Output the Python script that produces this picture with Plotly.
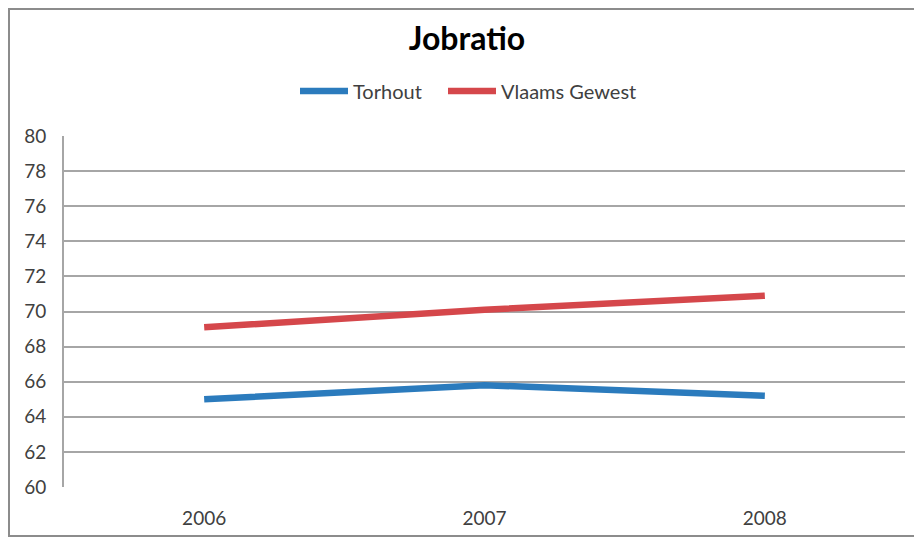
import plotly.graph_objects as go

years = ["2006", "2007", "2008"]
torhout = [65.0, 65.8, 65.2]
vlaams = [69.1, 70.1, 70.9]
series_names = ["Torhout", "Vlaams Gewest"]
title_text = "Jobratio"

OFF = 8  # page body margin
W, H = 922 - OFF, 540 - OFF
L, T = 64 - OFF, 136 - OFF
R = W - (905 - OFF)
B = H - (487 - OFF)
pw, ph = W - L - R, H - T - B

fig = go.Figure()
fig.add_trace(go.Scatter(x=years, y=torhout, mode="lines", name=series_names[0],
                         line=dict(color="#2b7bbd", width=6.5), legend="legend"))
fig.add_trace(go.Scatter(x=years, y=vlaams, mode="lines", name=series_names[1],
                         line=dict(color="#d5474b", width=6.5), legend="legend2"))

font_fam = "Lato, 'Open Sans', sans-serif"

def leg(xpix):
    return dict(orientation="h", x=(xpix - 64) / pw, xanchor="left",
                y=1 + (136 - 91) / ph, yanchor="middle",
                font=dict(size=20, color="#404040"), itemwidth=48,
                bgcolor="rgba(0,0,0,0)")

fig.update_layout(
    width=W, height=H,
    margin=dict(l=L, r=R, t=T, b=B),
    paper_bgcolor="white", plot_bgcolor="white",
    font=dict(family=font_fam, color="#404040", size=18),
    title=dict(text="<b>" + title_text + "</b>", x=(467 - 64) / pw, xref="paper",
               xanchor="center", y=1 - (39 - OFF) / H, yanchor="middle",
               font=dict(size=32, color="#000000", family=font_fam)),
    legend=leg(301 - 6),
    legend2=leg(448 - 5),
    showlegend=True,
)
fig.update_xaxes(type="category", range=[-0.5, 2.5], showgrid=False,
                 showline=False, zeroline=False, ticks="",
                 tickfont=dict(size=19, color="#404040"), ticklabelstandoff=18)
fig.update_yaxes(range=[60, 80], dtick=2, showgrid=True, gridcolor="#a6a6a6",
                 gridwidth=1.8, showline=True, linecolor="#a6a6a6", linewidth=1.8,
                 zeroline=False, ticks="", tickfont=dict(size=19, color="#404040"),
                 ticklabelstandoff=12)

# outer chart border (left, top, bottom)
fig.add_shape(type="rect", xref="paper", yref="paper",
              x0=(1 - L) / pw, x1=(940 - L) / pw,
              y0=-(536 - 487) / ph, y1=1 + (T - 1) / ph,
              line=dict(color="#8c8c8c", width=2), fillcolor="rgba(0,0,0,0)", layer="below")

fig.write_html("out.html")
